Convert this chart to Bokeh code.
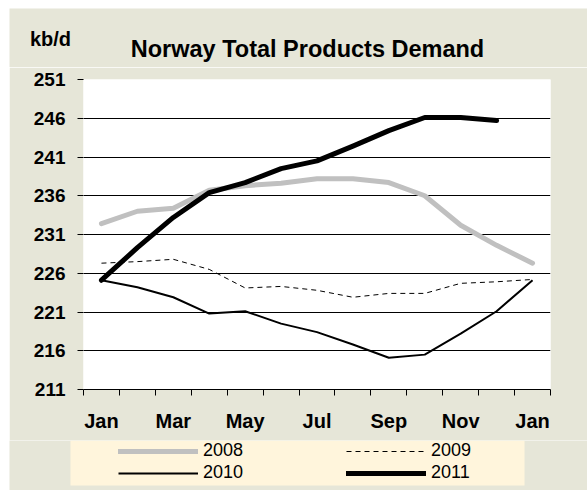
from bokeh.plotting import figure
from bokeh.layouts import column
from bokeh.models import (FixedTicker, Legend, LegendItem, Label, BoxAnnotation,
                          Range1d)
from bokeh.embed import file_html
from bokeh.resources import INLINE

# ---- data ----
months = ["Jan", "Feb", "Mar", "Apr", "May", "Jun", "Jul", "Aug", "Sep",
          "Oct", "Nov", "Dec", "Jan"]
tick_labels = ["Jan", "Mar", "May", "Jul", "Sep", "Nov", "Jan"]
y_ticks = [211, 216, 221, 226, 231, 236, 241, 246, 251]
series_names = ["2008", "2009", "2010", "2011"]

d2008 = [232.4, 234.0, 234.4, 236.7, 237.3, 237.6, 238.2, 238.2, 237.7, 236.0,
         232.2, 229.6, 227.3]
d2009 = [227.3, 227.5, 227.8, 226.5, 224.1, 224.3, 223.8, 222.9, 223.4, 223.4,
         224.7, 224.9, 225.2]
d2010 = [225.1, 224.2, 222.9, 220.8, 221.1, 219.5, 218.4, 216.8, 215.1, 215.5,
         218.2, 221.1, 225.1]
d2011 = [225.1, 229.3, 233.2, 236.4, 237.7, 239.5, 240.5, 242.4, 244.4, 246.1,
         246.1, 245.7]

xs = list(range(len(months)))
series = {"2008": d2008, "2009": d2009, "2010": d2010, "2011": d2011}

FONT = "Liberation Sans"
BG = "#E6E6D8"
W = 578

styles = {
    "2008": dict(line_color="#C0C0C0", line_width=5, line_cap="round", line_join="round"),
    "2009": dict(line_color="black", line_width=1, line_dash="5 4"),
    "2010": dict(line_color="black", line_width=2, line_join="round"),
    "2011": dict(line_color="black", line_width=5, line_cap="round", line_join="round"),
}

# ---------- header (title + unit) ----------
hdr = figure(width=W, height=59, output_backend="svg", toolbar_location=None,
             x_range=Range1d(0, W), y_range=Range1d(0, 59),
             x_axis_type=None, y_axis_type=None, min_border=0,
             frame_align=False)
hdr.background_fill_color = BG
hdr.border_fill_color = BG
hdr.outline_line_color = None
hdr.grid.visible = False
hdr.add_layout(Label(x=298, y=18.5, text="Norway Total Products Demand",
                     text_align="center", text_baseline="middle", text_font=FONT,
                     text_font_style="bold", text_font_size="23.5px",
                     text_color="black"))
hdr.add_layout(Label(x=41, y=29, text="kb/d", text_align="center",
                     text_baseline="middle", text_font=FONT,
                     text_font_style="bold", text_font_size="20px",
                     text_color="black"))

# ---------- main chart ----------
p = figure(width=W, height=373, output_backend="svg", toolbar_location=None,
           x_range=Range1d(-0.5, len(months) - 0.5),
           y_range=Range1d(y_ticks[0], y_ticks[-1]),
           min_border_left=74, min_border_right=37, min_border_top=12,
           min_border_bottom=51, frame_align=False)
p.background_fill_color = "white"
p.border_fill_color = BG
p.outline_line_color = None

label_pos = [i for i in xs if i % 2 == 0]
p.xaxis.ticker = FixedTicker(ticks=label_pos,
                             minor_ticks=[i - 0.5 for i in range(len(months) + 1)])
p.xaxis.major_label_overrides = {pos: lab for pos, lab in zip(label_pos, tick_labels)}
p.xaxis.major_tick_out = 0
p.xaxis.major_tick_in = 0
p.xaxis.minor_tick_out = 6
p.xaxis.minor_tick_in = 0
p.xaxis.minor_tick_line_color = "black"
p.xaxis.axis_line_color = "black"
p.xaxis.major_label_text_font = FONT
p.xaxis.major_label_text_font_style = "bold"
p.xaxis.major_label_text_font_size = "20px"
p.xaxis.major_label_text_color = "black"
p.xaxis.major_label_standoff = 14

p.yaxis.ticker = FixedTicker(ticks=y_ticks)
p.yaxis.axis_line_color = None
p.yaxis.major_tick_out = 6
p.yaxis.major_tick_in = 0
p.yaxis.major_tick_line_color = "black"
p.yaxis.minor_tick_line_color = None
p.yaxis.major_label_text_font = FONT
p.yaxis.major_label_text_font_style = "bold"
p.yaxis.major_label_text_font_size = "19px"
p.yaxis.major_label_text_color = "black"
p.yaxis.major_label_standoff = 12

p.xgrid.grid_line_color = None
p.ygrid.ticker = FixedTicker(ticks=y_ticks)
p.ygrid.grid_line_color = "black"
p.ygrid.grid_line_width = 1

for name in series_names:
    vals = series[name]
    p.line(xs[:len(vals)], vals, **styles[name])

# ---------- footer (legend) ----------
ftr = figure(width=W, height=50, output_backend="svg", toolbar_location=None,
             x_range=Range1d(0, W), y_range=Range1d(0, 50),
             x_axis_type=None, y_axis_type=None, min_border=0,
             frame_align=False)
ftr.background_fill_color = BG
ftr.border_fill_color = BG
ftr.outline_line_color = None
ftr.grid.visible = False
ftr.add_layout(BoxAnnotation(left=61, right=515, bottom=5, top=50,
                             fill_color="#FFF5DC", fill_alpha=1,
                             line_color=None, level="underlay"))
items = []
for name in series_names:
    vals = series[name]
    # same series drawn here only as legend source (values lie outside this panel's range)
    r = ftr.line(xs[:len(vals)], vals, **styles[name])
    items.append(LegendItem(label=name, renderers=[r]))
legend = Legend(items=items, orientation="horizontal", ncols=2,
                location=(109, 7), padding=1, spacing=1, margin=0,
                glyph_width=80, glyph_height=20, label_height=20,
                label_width=142, label_standoff=5,
                label_text_font=FONT, label_text_font_size="18px",
                label_text_color="black",
                background_fill_alpha=0, border_line_color=None)
ftr.add_layout(legend, "center")

layout = column(hdr, p, ftr, spacing=0, margin=(8, 0, 0, 9))
open("out.html", "w").write(file_html(layout, INLINE))
